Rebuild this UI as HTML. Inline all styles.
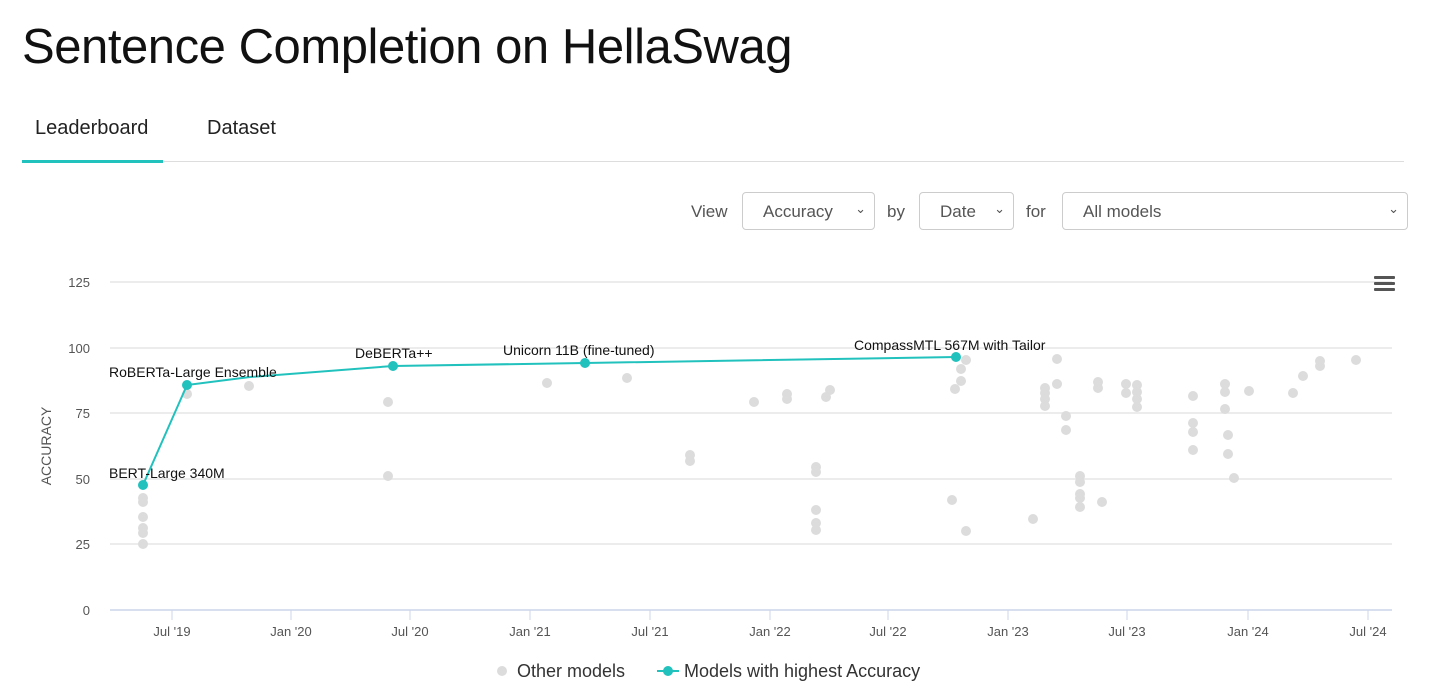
<!DOCTYPE html>
<html><head><meta charset="utf-8"><style>
body{margin:0;width:1456px;height:695px;background:#fff;font-family:"Liberation Sans",sans-serif;overflow:hidden;position:relative}
h1{position:absolute;left:22px;top:19px;margin:0;font-size:49px;font-weight:400;color:#111;letter-spacing:-0.45px}
.tab{position:absolute;top:117px;font-size:20px;color:#222}
.sel{position:absolute;top:192px;height:38px;border:1px solid #ccc;border-radius:4px;box-sizing:border-box;font-size:17px;color:#555;padding:9px 0 0 20px}
.lbl{position:absolute;top:202px;font-size:17px;color:#555}
.car{position:absolute;right:8px;top:8px;font-size:13px;color:#555}
</style></head><body>
<h1>Sentence Completion on HellaSwag</h1>
<div class="tab" style="left:35px">Leaderboard</div>
<div class="tab" style="left:207px">Dataset</div>
<div style="position:absolute;left:22px;top:161px;width:1382px;height:1px;background:#ddd"></div>
<div style="position:absolute;left:22px;top:160px;width:141px;height:3px;background:#21c1bd"></div>
<div class="lbl" style="left:691px">View</div>
<div class="sel" style="left:742px;width:133px">Accuracy<span class="car">&#8964;</span></div>
<div class="lbl" style="left:887px">by</div>
<div class="sel" style="left:919px;width:95px">Date<span class="car">&#8964;</span></div>
<div class="lbl" style="left:1026px">for</div>
<div class="sel" style="left:1062px;width:346px">All models<span class="car">&#8964;</span></div>
<svg width="1456" height="695" style="position:absolute;left:0;top:0" font-family="Liberation Sans, sans-serif">
<g stroke="#e6e6e6" stroke-width="1.5">
<line x1="110" x2="1392" y1="282" y2="282"/><line x1="110" x2="1392" y1="348" y2="348"/>
<line x1="110" x2="1392" y1="413" y2="413"/><line x1="110" x2="1392" y1="479" y2="479"/>
<line x1="110" x2="1392" y1="544" y2="544"/></g>
<line x1="110" x2="1392" y1="610" y2="610" stroke="#ccd6eb" stroke-width="1.5"/>
<g stroke="#ccd6eb"><line x1="172" x2="172" y1="610" y2="620"/><line x1="291" x2="291" y1="610" y2="620"/><line x1="410" x2="410" y1="610" y2="620"/><line x1="530" x2="530" y1="610" y2="620"/><line x1="650" x2="650" y1="610" y2="620"/><line x1="770" x2="770" y1="610" y2="620"/><line x1="888" x2="888" y1="610" y2="620"/><line x1="1008" x2="1008" y1="610" y2="620"/><line x1="1127" x2="1127" y1="610" y2="620"/><line x1="1248" x2="1248" y1="610" y2="620"/><line x1="1368" x2="1368" y1="610" y2="620"/></g>
<g font-size="13" fill="#555" text-anchor="end">
<text x="90" y="287">125</text><text x="90" y="353">100</text><text x="90" y="418">75</text><text x="90" y="484">50</text><text x="90" y="549">25</text><text x="90" y="615">0</text></g>
<g font-size="13" fill="#555" text-anchor="middle">
<text x="172" y="636">Jul '19</text><text x="291" y="636">Jan '20</text><text x="410" y="636">Jul '20</text><text x="530" y="636">Jan '21</text><text x="650" y="636">Jul '21</text><text x="770" y="636">Jan '22</text><text x="888" y="636">Jul '22</text><text x="1008" y="636">Jan '23</text><text x="1127" y="636">Jul '23</text><text x="1248" y="636">Jan '24</text><text x="1368" y="636">Jul '24</text></g>
<text transform="translate(51,446) rotate(-90)" font-size="14" fill="#555" text-anchor="middle">ACCURACY</text>
<g fill="#555"><rect x="1374" y="276" width="21" height="3" rx="1"/><rect x="1374" y="282" width="21" height="3" rx="1"/><rect x="1374" y="288" width="21" height="3" rx="1"/></g>
<g fill="#dcdcdc">
<circle cx="143" cy="502" r="5"/><circle cx="143" cy="517" r="5"/><circle cx="143" cy="528" r="5"/><circle cx="143" cy="533" r="5"/><circle cx="143" cy="544" r="5"/><circle cx="143" cy="498" r="5"/><circle cx="187" cy="394" r="5"/><circle cx="249" cy="386" r="5"/><circle cx="388" cy="402" r="5"/><circle cx="388" cy="476" r="5"/><circle cx="547" cy="383" r="5"/><circle cx="627" cy="378" r="5"/><circle cx="690" cy="455" r="5"/><circle cx="690" cy="461" r="5"/><circle cx="754" cy="402" r="5"/><circle cx="787" cy="394" r="5"/><circle cx="787" cy="399" r="5"/><circle cx="816" cy="467" r="5"/><circle cx="816" cy="472" r="5"/><circle cx="816" cy="510" r="5"/><circle cx="816" cy="523" r="5"/><circle cx="816" cy="530" r="5"/><circle cx="826" cy="397" r="5"/><circle cx="830" cy="390" r="5"/><circle cx="952" cy="500" r="5"/><circle cx="955" cy="389" r="5"/><circle cx="961" cy="381" r="5"/><circle cx="961" cy="369" r="5"/><circle cx="966" cy="360" r="5"/><circle cx="966" cy="531" r="5"/><circle cx="1033" cy="519" r="5"/><circle cx="1045" cy="388" r="5"/><circle cx="1045" cy="399" r="5"/><circle cx="1045" cy="406" r="5"/><circle cx="1045" cy="393" r="5"/><circle cx="1057" cy="359" r="5"/><circle cx="1057" cy="384" r="5"/><circle cx="1066" cy="416" r="5"/><circle cx="1066" cy="430" r="5"/><circle cx="1080" cy="476" r="5"/><circle cx="1080" cy="482" r="5"/><circle cx="1080" cy="494" r="5"/><circle cx="1080" cy="498" r="5"/><circle cx="1080" cy="507" r="5"/><circle cx="1102" cy="502" r="5"/><circle cx="1098" cy="382" r="5"/><circle cx="1098" cy="388" r="5"/><circle cx="1126" cy="384" r="5"/><circle cx="1126" cy="393" r="5"/><circle cx="1137" cy="385" r="5"/><circle cx="1137" cy="392" r="5"/><circle cx="1137" cy="399" r="5"/><circle cx="1137" cy="407" r="5"/><circle cx="1193" cy="396" r="5"/><circle cx="1193" cy="423" r="5"/><circle cx="1193" cy="432" r="5"/><circle cx="1193" cy="450" r="5"/><circle cx="1225" cy="384" r="5"/><circle cx="1225" cy="392" r="5"/><circle cx="1225" cy="409" r="5"/><circle cx="1228" cy="435" r="5"/><circle cx="1228" cy="454" r="5"/><circle cx="1234" cy="478" r="5"/><circle cx="1249" cy="391" r="5"/><circle cx="1293" cy="393" r="5"/><circle cx="1303" cy="376" r="5"/><circle cx="1320" cy="361" r="5"/><circle cx="1320" cy="366" r="5"/><circle cx="1356" cy="360" r="5"/></g>
<polyline points="143,485 187,385 250,377 393,366 585,363 956,357" fill="none" stroke="#21c1bd" stroke-width="2"/>
<g fill="#21c1bd"><circle cx="143" cy="485" r="5"/><circle cx="187" cy="385" r="5"/><circle cx="393" cy="366" r="5"/><circle cx="585" cy="363" r="5"/><circle cx="956" cy="357" r="5"/></g>
<g font-size="14" fill="#111">
<text x="109" y="478">BERT-Large 340M</text><text x="109" y="377">RoBERTa-Large Ensemble</text><text x="355" y="358">DeBERTa++</text><text x="503" y="355">Unicorn 11B (fine-tuned)</text><text x="854" y="350">CompassMTL 567M with Tailor</text></g>
<circle cx="502" cy="671" r="5" fill="#dcdcdc"/>
<text x="517" y="677" font-size="18" fill="#333">Other models</text>
<line x1="657" x2="679" y1="671" y2="671" stroke="#21c1bd" stroke-width="2"/><circle cx="668" cy="671" r="5" fill="#21c1bd"/>
<text x="684" y="677" font-size="18" fill="#333">Models with highest Accuracy</text>
</svg>
</body></html>
